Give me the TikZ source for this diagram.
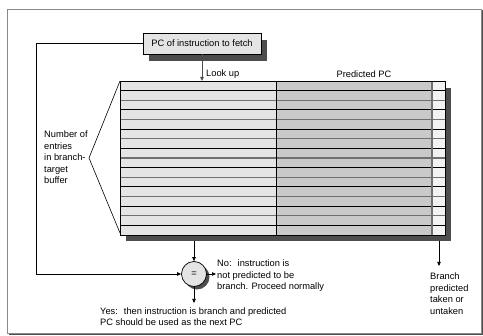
\documentclass[tikz,border=0pt]{standalone}
\usepackage{fontspec}
\setmainfont{Liberation Sans}
\usetikzlibrary{arrows.meta}
\definecolor{shadowc}{HTML}{4D4D4D}
\definecolor{leftcol}{HTML}{E4E4E4}
\definecolor{midcol}{HTML}{C9C9C9}
\definecolor{rightcol}{HTML}{F2F2F2}
\definecolor{rowgray}{HTML}{707070}
\definecolor{framec}{HTML}{8A8A8A}
\begin{document}
\begin{tikzpicture}[x=1pt,y=-1pt,
  font=\fontsize{9.3}{11.5}\selectfont,
  arr/.style={-{Triangle[length=4pt,width=3.4pt]}, line width=0.7pt},
  txt/.style={inner sep=0pt, align=left, anchor=north west},
  pcbox/.style={draw, line width=0.8pt, fill=leftcol, minimum width=118pt, minimum height=21pt, inner sep=0pt},
  eqnode/.style={circle, draw, line width=0.7pt, fill=leftcol, minimum size=25pt, inner sep=0pt}]
\useasboundingbox (0,0) rectangle (483,336);
% outer frame
\draw[shadowc, line width=1.6pt] (9,334.5) -- (482,334.5) -- (482,10);
\draw[framec, line width=0.9pt] (7.5,9) rectangle (481,333.5);
% PC box
\fill[shadowc] (149,40) rectangle (267,61);
\node[pcbox] (pc) at (202,43.5) {PC of instruction to fetch};
% table
\fill[shadowc] (126,88) rectangle (451,241);
\node[inner sep=0pt, minimum width=325pt, minimum height=154pt, anchor=north west] (tbl) at (120,81) {};
\fill[leftcol] (120,81) rectangle (276,235);
\fill[midcol] (276,81) rectangle (432,235);
\fill[rightcol] (432,81) rectangle (445,235);
\foreach \i in {1,...,15}{
  \pgfmathsetmacro{\yy}{81+\i*9.625}
  \ifodd\i
    \draw[black, line width=0.8pt] (120,\yy) -- (445,\yy);
  \else
    \draw[rowgray, line width=1.3pt] (120,\yy) -- (445,\yy);
  \fi
}
\draw[black, line width=0.8pt] (276,81) -- (276,235);
\draw[rowgray, line width=1.4pt] (432,81) -- (432,235);
\draw[black, line width=0.8pt] (120,81) rectangle (445,235);
% brace
\coordinate (apex) at (89,158);
\draw[line width=0.6pt] (120,81) -- (apex) -- (120,233);
\node[txt] (num) at (44,131) {Number of\\entries\\in branch-\\target\\buffer};
% labels
\node[txt] (look) at (206,70) {Look up};
\node[inner sep=0pt] (pred) at (364,74) {Predicted PC};
% compare circle
\fill[shadowc] (197,277) circle (12.5pt);
\node[eqnode] (eq) at (194,274) {=};
% connectors
\coordinate (lc) at (36,274);
\draw[arr] (pc.west) -| (lc) -- (eq.west);
\draw[arr, line width=1pt, black!70] (pc.south) -- (pc.south |- tbl.north);
\coordinate (sb1) at (194,241);
\draw[arr] (sb1) -- (eq.north);
\coordinate (noarr) at (216,274);
\draw[arr] (eq.east) -- (noarr);
\coordinate (yesarr) at (194,303);
\draw[arr] (eq.south) -- (yesarr);
\coordinate (sb2) at (439,241);
\coordinate (brarr) at (439,266);
\draw[arr] (sb2) -- (brarr);
% texts
\node[txt] (no) at (217,260) {No:~ instruction is\\not predicted to be\\branch. Proceed normally};
\node[txt] (yes) at (100,307.5) {Yes:~ then instruction is branch and predicted\\PC should be used as the next PC};
\node[txt] (br) at (430,273) {Branch\\predicted\\taken or\\untaken};
\end{tikzpicture}
\end{document}
